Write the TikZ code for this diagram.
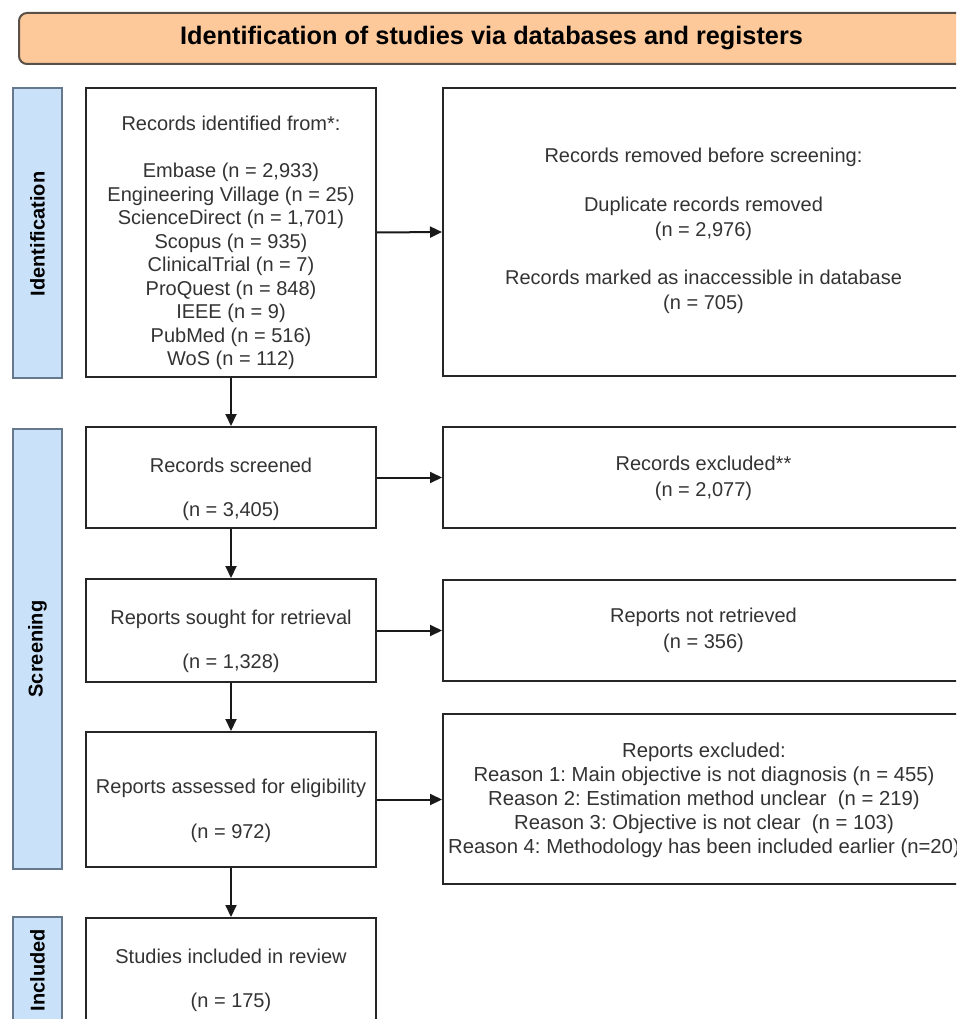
\documentclass[tikz,border=0pt]{standalone}
\usepackage{fontspec}
\setmainfont{Liberation Sans}
\usetikzlibrary{arrows.meta}
\frenchspacing
\definecolor{hdrfill}{HTML}{FDC99A}
\definecolor{hdrline}{HTML}{5A5048}
\definecolor{barfill}{HTML}{C9E2FA}
\definecolor{barline}{HTML}{65788C}
\definecolor{txtgray}{HTML}{333333}
\tikzset{
  box/.style={draw=black!85, line width=2pt, fill=white, rectangle, inner sep=0pt},
  bar/.style={draw=barline, line width=2pt, fill=barfill, rectangle, inner sep=0pt},
  btxt/.style={text=txtgray, align=center, inner sep=0pt, font=\fontsize{20}{23.5}\selectfont},
  rtxt/.style={text=txtgray, align=center, inner sep=0pt, font=\fontsize{20}{24.4}\selectfont},
  lbl/.style={text=black, font=\fontsize{20}{24}\selectfont\bfseries, rotate=90, inner sep=0pt},
  flow/.style={draw=black!90, line width=2pt, -{Triangle[length=12pt,width=11pt]}}
}
\begin{document}
\begin{tikzpicture}[x=1pt,y=-1pt]
\useasboundingbox (0,0) rectangle (956,1019);
\clip (0,0) rectangle (956,1019);
\fill[white] (0,0) rectangle (956,1019);

% header
\node[draw=hdrline, line width=2pt, fill=hdrfill, rounded corners=8pt, minimum width=945pt, minimum height=51pt, inner sep=0pt] (hdr) at (491.5,38.5) {};
\node[font=\fontsize{25.3}{28}\selectfont\bfseries, text=black, inner sep=0pt] (hdrt) at (491.5,38.5) {Identification of studies via databases and registers};

% side bars
\node[bar, minimum width=49pt, minimum height=290pt] (barI) at (37.5,233) {};
\node[lbl] (lblI) at (37.5,234) {Identification};
\node[bar, minimum width=49pt, minimum height=440pt] (barS) at (37.5,649) {};
\node[lbl] (lblS) at (37.5,649) {Screening};
\node[bar, minimum width=49pt, minimum height=160pt] (barN) at (37.5,997) {};
\node[lbl] (lblN) at (37.5,970) {Included};

% left boxes
\node[box, minimum width=290pt, minimum height=289pt] (b1) at (231,232.5) {};
\node[btxt] (t1) at (231,243) {Records identified from*:\\[23.5pt]
Embase (n = 2,933)\\
Engineering Village (n = 25)\\
ScienceDirect (n = 1,701)\\
Scopus (n = 935)\\
ClinicalTrial (n = 7)\\
ProQuest (n = 848)\\
IEEE (n = 9)\\
PubMed (n = 516)\\
WoS (n = 112)};

\node[box, minimum width=290pt, minimum height=101pt] (b2) at (231,477.5) {};
\node[btxt, font=\fontsize{20}{22}\selectfont] (t2) at (231,489) {Records screened\\[22pt](n = 3,405)};

\node[box, minimum width=290pt, minimum height=103pt] (b3) at (231,630.5) {};
\node[btxt, font=\fontsize{20}{22}\selectfont] (t3) at (231,641) {Reports sought for retrieval\\[22pt](n = 1,328)};

\node[box, minimum width=290pt, minimum height=135pt] (b4) at (231,799.5) {};
\node[btxt, font=\fontsize{20}{22.5}\selectfont] (t4) at (231,810.5) {Reports assessed for eligibility\\[22.5pt](n = 972)};

\node[box, minimum width=290pt, minimum height=160pt] (b5) at (231,998) {};
\node[btxt, font=\fontsize{20}{22}\selectfont] (t5) at (231,980) {Studies included in review\\[22pt](n = 175)};

% right boxes
\node[box, minimum width=521pt, minimum height=288pt] (r1) at (703.5,232) {};
\node[rtxt] (s1) at (703.5,231) {Records removed before screening:\\[24.4pt]
Duplicate records removed\\
(n = 2,976)\\[24.4pt]
Records marked as inaccessible in database\\
(n = 705)};

\node[box, minimum width=521pt, minimum height=101pt] (r2) at (703.5,477.5) {};
\node[rtxt, font=\fontsize{20}{26}\selectfont] (s2) at (703.5,478) {Records excluded**\\(n = 2,077)};

\node[box, minimum width=521pt, minimum height=101pt] (r3) at (703.5,630.5) {};
\node[rtxt, font=\fontsize{20}{26}\selectfont] (s3) at (703.5,630) {Reports not retrieved\\(n = 356)};

\node[box, minimum width=521pt, minimum height=170pt] (r4) at (703.5,799) {};
\node[rtxt, font=\fontsize{20.3}{24}\selectfont] (s4) at (704,800) {Reports excluded:\\
Reason 1: Main objective is not diagnosis (n = 455)\\
Reason 2: Estimation method unclear\ \ (n = 219)\\
Reason 3: Objective is not clear\ \ (n = 103)\\
Reason 4: Methodology has been included earlier (n=20)};

% connectors
\draw[flow] (b1.south) -- (b2.north);
\draw[flow] (b2.south) -- (b3.north);
\draw[flow] (b3.south) -- (b4.north);
\draw[flow] (b4.south) -- (b5.north);
\draw[flow] (b1.east) -- (r1.west);
\draw[flow] (b2.east) -- (r2.west);
\draw[flow] (b3.east) -- (r3.west);
\draw[flow] (b4.east) -- (b4.east -| r4.west);
\end{tikzpicture}
\end{document}
